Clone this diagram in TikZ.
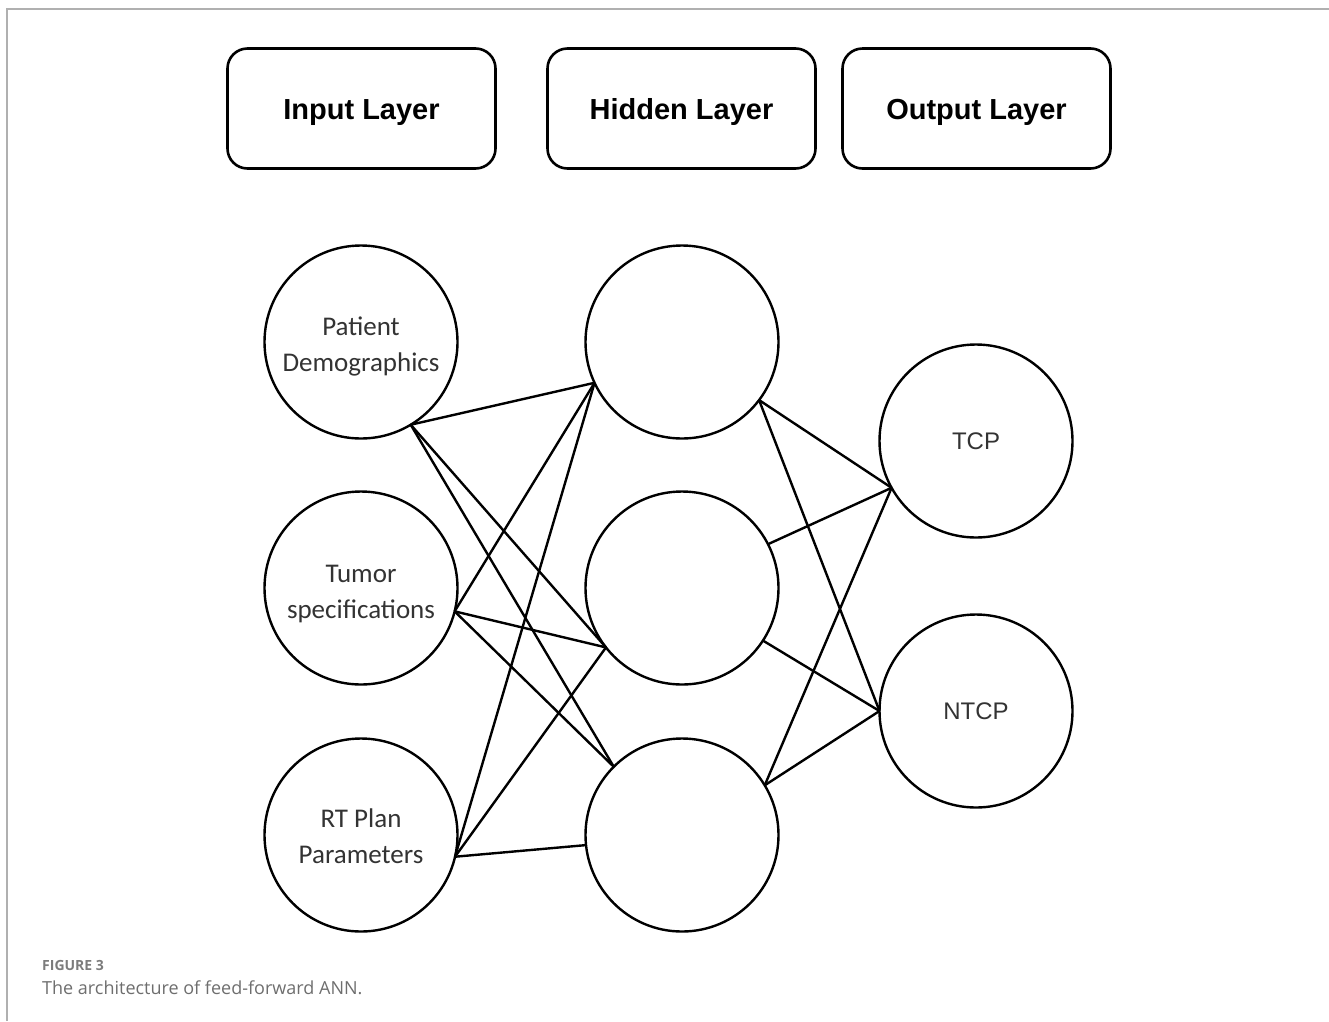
\documentclass[tikz,border=0pt]{standalone}
\usepackage{fontspec}
\setmainfont{Liberation Sans}
\newfontfamily\carlito{Carlito}
\newfontfamily\opensans{Open Sans}
\definecolor{framegray}{HTML}{B0B0B0}
\definecolor{nodetext}{HTML}{333333}
\definecolor{capgray}{HTML}{6E6E6E}
% two centred lines of neuron text; #1 of extra room above pushes them down by half of it
\newcommand\twolines[3]{\raisebox{0pt}[\dimexpr\height+#1\relax][\depth]{\begin{tabular}{@{}c@{}}#2\\#3\end{tabular}}}
\begin{document}
\begin{tikzpicture}[x=1pt,y=-1pt,
  layerbox/.style={draw=black, line width=2.6pt, rounded corners=20pt,
    minimum width=268pt, minimum height=120pt, inner sep=0pt, outer sep=0pt,
    font=\fontsize{29}{34}\selectfont\bfseries, text height=21pt, text depth=0pt},
  neuron/.style={circle, draw=black, line width=2.4pt, minimum size=193pt,
    inner sep=0pt, outer sep=0pt, text=nodetext,
    font=\carlito\fontsize{27}{36}\selectfont},
  outneuron/.style={neuron, font=\fontsize{24}{28}\selectfont},
  link/.style={draw=black, line width=2.4pt}
]
\useasboundingbox (0,0) rectangle (1329,1021);
% figure frame
\draw[framegray, line width=1.6pt] (7,1021) -- (7,9) -- (1329,9);

% layer headings
\node[layerbox] (inL)  at (361.5,108.5) {Input Layer};
\node[layerbox] (hidL) at (681.5,108.5) {Hidden Layer};
\node[layerbox] (outL) at (976.5,108.5) {Output Layer};

% input neurons
\node[neuron] (pd) at (361,342) {\twolines{8pt}{Patient}{Demographics}};
\node[neuron] (ts) at (361,588) {\twolines{10pt}{Tumor}{specifications}};
\node[neuron] (rt) at (361,835) {\twolines{6pt}{RT Plan}{Parameters}};

% hidden neurons
\node[neuron] (h1) at (682,342) {};
\node[neuron] (h2) at (682,588) {};
\node[neuron] (h3) at (682,835) {};

% output neurons
\node[outneuron] (tcp)  at (976,441) {TCP};
\node[outneuron] (ntcp) at (976,711) {NTCP};

% input -> hidden
\draw[link] (pd.-59) -- (h1.205);
\draw[link] (pd.-59) -- (h2.218);
\draw[link] (pd.-59) -- (h3.135);
\draw[link] (ts.-14) -- (h1.205);
\draw[link] (ts.-14) -- (h2.218);
\draw[link] (ts.-14) -- (h3.135);
\draw[link] (rt.-13) -- (h1.205);
\draw[link] (rt.-13) -- (h2.218);
\draw[link] (rt.-13) -- (h3.186);

% hidden -> output
\draw[link] (h1.-37) -- (tcp.209);
\draw[link] (h1.-37) -- (ntcp.180);
\draw[link] (h2.27)  -- (tcp.209);
\draw[link] (h2.-33) -- (ntcp.180);
\draw[link] (h3.31)  -- (tcp.209);
\draw[link] (h3.31)  -- (ntcp.180);

% caption
\node[anchor=base west, inner sep=0pt, text=capgray!90,
  font=\opensans\bfseries\fontsize{14}{16}\selectfont] (fig) at (42,970) {FIGURE 3};
\node[anchor=base west, inner sep=0pt, text=capgray,
  font=\opensans\fontsize{18}{21}\selectfont] (cap) at (42,994) {The architecture of feed-forward ANN.};
\end{tikzpicture}
\end{document}
